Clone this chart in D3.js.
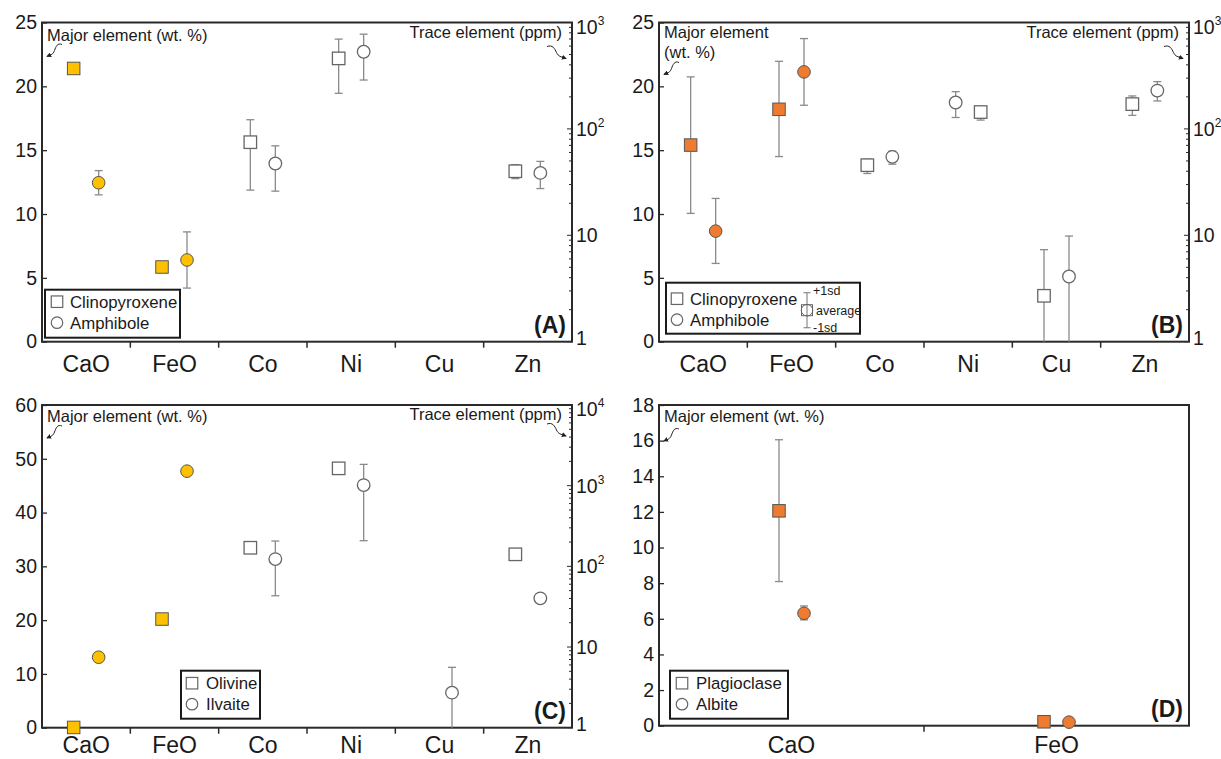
<!DOCTYPE html>
<html><head><meta charset="utf-8">
<script src="https://cdn.jsdelivr.net/npm/d3@7"></script>
<style>
body{margin:0;background:#fff}
svg{display:block}
text{font-family:"Liberation Sans",Arial,Helvetica,sans-serif;fill:#1a1a1a}
</style>
</head><body>
<svg id="chart" width="1221" height="759"></svg>
<script>
// ---------------- DATA ----------------
const elements = ["CaO", "FeO", "Co", "Ni", "Cu", "Zn"];
const majorElements = ["CaO", "FeO"];          // left axis, wt. %
const plagElements = ["CaO", "FeO"];

// Panel A: Clinopyroxene (square) vs Amphibole (circle)
const aCpxMean = [21.4, 5.85, 75, 460, null, 40];
const aCpxLow  = [null, null, 26.6, 216, null, 34.1];
const aCpxHigh = [null, null, 122, 698, null, 46.1];
const aAmpMean = [12.45, 6.4, 47.3, 531, null, 38.6];
const aAmpLow  = [11.5, 4.2, 26.0, 288, null, 27.5];
const aAmpHigh = [13.4, 8.6, 69.3, 777, null, 49.5];

// Panel B: Clinopyroxene (square) vs Amphibole (circle)
const bCpxMean = [15.4, 18.2, 45.6, 144, 2.7, 171];
const bCpxLow  = [10.05, 14.5, 38.1, 121, 0, 134];
const bCpxHigh = [20.74, 21.96, 52, 162, 7.33, 204];
const bAmpMean = [8.66, 21.13, 54.6, 177, 4.1, 229];
const bAmpLow  = [6.13, 18.52, 46.6, 128, 0, 183];
const bAmpHigh = [11.22, 23.74, 61.8, 224, 9.84, 278];
const bSwapped = ["Ni"];   // amphibole drawn left of clinopyroxene

// Panel C: Olivine (square) vs Ilvaite (circle)
const cOlvMean = [0.05, 20.2, 170, 1640, null, 141];
const cOlvLow  = [null, null, null, null, null, null];
const cOlvHigh = [null, null, null, null, null, null];
const cIlvMean = [13.1, 47.7, 123, 1017, 2.72, 40.1];
const cIlvLow  = [null, null, 43.2, 208, 0, null];
const cIlvHigh = [null, null, 206, 1837, 5.6, null];

// Panel D: Plagioclase (square) vs Albite (circle)
const dPlgMean = [12.06, 0.22];
const dPlgLow  = [8.09, null];
const dPlgHigh = [16.05, null];
const dAlbMean = [6.31, 0.2];
const dAlbLow  = [5.94, null];
const dAlbHigh = [6.72, null];

const leftTicksA = [0, 5, 10, 15, 20, 25];
const leftTicksC = [0, 10, 20, 30, 40, 50, 60];
const leftTicksD = [0, 2, 4, 6, 8, 10, 12, 14, 16, 18];

// ---------------- DRAW ----------------
const svg = d3.select("#chart");
const defs = svg.append("defs");
defs.append("marker").attr("id", "ah").attr("viewBox", "0 0 6 6")
  .attr("refX", 5).attr("refY", 3).attr("markerWidth", 5).attr("markerHeight", 5)
  .attr("orient", "auto")
  .append("path").attr("d", "M0,0 L6,3 L0,6 Z").attr("fill", "#222");

const GOLD = "#FFC000", ORANGE = "#EE7B30";
const BAR = "#8a8a8a", HOLLOW = "#666", FRAME = "#2a2a2a";
const OFF = 12.5, SQ = 12.5, R = 6.3;

function curly(g, sx, sy, ex, ey) {
  const mx = (sx + ex) / 2, my = (sy + ey) / 2, dx = ex - sx;
  g.append("path")
    .attr("d", `M${sx},${sy} C${sx + dx * 0.3},${sy - 2} ${mx - dx * 0.1},${my - 4} ${mx},${my} S${ex - dx * 0.3},${ey - 2} ${ex},${ey}`)
    .attr("fill", "none").attr("stroke", "#222").attr("stroke-width", 1)
    .attr("marker-end", "url(#ah)");
}

function drawShape(g, shape, cx, cy, fill, stroke, sw, size) {
  if (shape === "square") {
    g.append("rect").attr("x", cx - size / 2).attr("y", cy - size / 2)
      .attr("width", size).attr("height", size)
      .attr("fill", fill).attr("stroke", stroke).attr("stroke-width", sw);
  } else {
    g.append("circle").attr("cx", cx).attr("cy", cy).attr("r", size / 2)
      .attr("fill", fill).attr("stroke", stroke).attr("stroke-width", sw);
  }
}

function panel(cfg) {
  const g = svg.append("g");
  const { x0, x1, y0, y1 } = cfg.frame;
  const x = d3.scaleBand().domain(cfg.cats).range([x0, x1]);
  const bw = x.bandwidth();
  const yL = d3.scaleLinear().domain([0, cfg.leftTicks[cfg.leftTicks.length - 1]]).range([y1, y0]);
  const yR = cfg.logMax ? d3.scaleLog().domain([1, cfg.logMax]).range([y1, y0]) : null;

  // left axis
  const la = g.append("g").attr("transform", `translate(${x0},0)`)
    .call(d3.axisLeft(yL).tickValues(cfg.leftTicks).tickSizeInner(-5).tickSizeOuter(0).tickPadding(5));
  la.select(".domain").remove();
  la.selectAll("line").attr("stroke", FRAME).attr("stroke-width", 1.3);
  la.selectAll("text").attr("font-size", 19.5).attr("fill", "#1a1a1a")
    .attr("font-family", '"Liberation Sans",Arial,sans-serif');

  // right log axis
  if (yR) {
    const ra = g.append("g");
    yR.ticks().forEach(t => {
      const lg = Math.log10(t);
      const major = Math.abs(lg - Math.round(lg)) < 1e-9;
      ra.append("line").attr("x1", x1).attr("x2", x1 - (major ? 5 : 3))
        .attr("y1", yR(t)).attr("y2", yR(t)).attr("stroke", FRAME).attr("stroke-width", 1);
      if (major) {
        const e = Math.round(lg);
        const adj = (t === 1) ? -4 : (t === cfg.logMax ? 4 : 0);
        const tx = ra.append("text").attr("x", x1 + 4).attr("y", yR(t) + adj).attr("dy", "0.36em")
          .attr("font-size", 19.5);
        if (e === 0) tx.text("1");
        else if (e === 1) tx.text("10");
        else {
          tx.append("tspan").text("10");
          tx.append("tspan").attr("font-size", 12).attr("dy", "-0.75em").text(e);
        }
      }
    });
  }

  // bottom axis ticks + labels
  cfg.cats.forEach((c, i) => {
    if (i > 0) g.append("line").attr("x1", x(c)).attr("x2", x(c)).attr("y1", y1).attr("y2", y1 + 6)
      .attr("stroke", FRAME).attr("stroke-width", 1.5);
    g.append("text").attr("x", x(c) + bw / 2).attr("y", y1 + cfg.labelDy).attr("text-anchor", "middle")
      .attr("font-size", 23).text(c);
  });

  // frame
  g.append("rect").attr("x", x0).attr("y", y0).attr("width", x1 - x0).attr("height", y1 - y0)
    .attr("fill", "none").attr("stroke", FRAME).attr("stroke-width", 2);

  // series
  const bars = g.append("g"), marks = g.append("g");
  cfg.series.forEach(s => {
    s.mean.forEach((m, i) => {
      if (m === null) return;
      const c = cfg.cats[i];
      const major = majorElements.includes(c);
      const sc = major ? yL : yR;
      const swap = (cfg.swapped || []).includes(c) ? -1 : 1;
      const cx = x(c) + bw / 2 + s.side * swap * OFF;
      const h = s.high[i], l = s.low[i];
      if (h !== null) {
        const yt = sc(h);
        const clipped = l <= sc.domain()[0];
        const yb = clipped ? y1 : sc(l);
        bars.append("line").attr("x1", cx).attr("x2", cx).attr("y1", yt).attr("y2", yb)
          .attr("stroke", BAR).attr("stroke-width", 1.3);
        bars.append("line").attr("x1", cx - 4).attr("x2", cx + 4).attr("y1", yt).attr("y2", yt)
          .attr("stroke", BAR).attr("stroke-width", 1.3);
        if (!clipped) bars.append("line").attr("x1", cx - 4).attr("x2", cx + 4).attr("y1", yb).attr("y2", yb)
          .attr("stroke", BAR).attr("stroke-width", 1.3);
      }
      const fill = major ? cfg.color : "#fff";
      const stroke = major ? "#555" : HOLLOW;
      drawShape(marks, s.shape, cx, sc(m), fill, stroke, major ? 1 : 1.3, s.shape === "square" ? SQ : 2 * R);
    });
  });

  // annotations
  const ma = cfg.major;
  ma.lines.forEach((t, k) => {
    g.append("text").attr("x", x0 + 5).attr("y", y0 + ma.base + k * 20.5).attr("font-size", 16.5).text(t);
  });
  curly(g, x0 + 20, y0 + ma.arrowY, x0 + 5, y0 + ma.arrowY + 12);
  if (cfg.trace) {
    g.append("text").attr("x", x1 - 10).attr("y", y0 + 15).attr("text-anchor", "end")
      .attr("font-size", 16.5).text("Trace element (ppm)");
    curly(g, x1 - 25, y0 + cfg.trace.arrowY, x1 - 6, y0 + cfg.trace.arrowY + 12);
  }

  // panel label
  g.append("text").attr("x", x1 - 6).attr("y", y1 - 9).attr("text-anchor", "end")
    .attr("font-size", 23).attr("font-weight", "bold").text(cfg.label);

  // legend
  const L = cfg.legend;
  g.append("rect").attr("x", x0 + L.dx).attr("y", y1 - L.dy).attr("width", L.w).attr("height", L.h)
    .attr("fill", "#fff").attr("stroke", "#1a1a1a").attr("stroke-width", 2);
  L.names.forEach((n, k) => {
    const cy = y1 - L.dy + L.row0 + k * 21;
    drawShape(g, k === 0 ? "square" : "circle", x0 + L.dx + L.sym, cy, "#fff", HOLLOW, 1.2, 11.5);
    g.append("text").attr("x", x0 + L.dx + L.txt).attr("y", cy).attr("dy", "0.36em")
      .attr("font-size", 16.8).text(n);
  });
  if (L.sd) {
    const ex = x0 + L.dx + L.sd, top = y1 - L.dy + 10, bot = y1 - L.dy + 45, mid = (top + bot) / 2;
    g.append("line").attr("x1", ex).attr("x2", ex).attr("y1", top).attr("y2", bot).attr("stroke", BAR).attr("stroke-width", 1.2);
    [top, bot].forEach(yy => g.append("line").attr("x1", ex - 3.5).attr("x2", ex + 3.5).attr("y1", yy).attr("y2", yy)
      .attr("stroke", BAR).attr("stroke-width", 1.2));
    drawShape(g, "square", ex, mid, "none", HOLLOW, 1, 11);
    drawShape(g, "circle", ex, mid, "none", HOLLOW, 1, 11.5);
    [["+1sd", top], ["average", mid], ["-1sd", bot]].forEach(([t, yy], k) => {
      g.append("text").attr("x", ex + (k === 1 ? 9 : 6)).attr("y", yy - (k === 0 ? 2 : 0)).attr("dy", "0.36em")
        .attr("font-size", 12.5).text(t);
    });
  }
}

panel({
  frame: { x0: 42, x1: 572, y0: 22.5, y1: 341.7 }, cats: elements, leftTicks: leftTicksA, logMax: 1e3,
  color: GOLD, label: "(A)", labelDy: 30,
  series: [
    { mean: aCpxMean, low: aCpxLow, high: aCpxHigh, shape: "square", side: -1 },
    { mean: aAmpMean, low: aAmpLow, high: aAmpHigh, shape: "circle", side: 1 }
  ],
  major: { lines: ["Major element (wt. %)"], base: 18, arrowY: 22 },
  trace: { arrowY: 24 },
  legend: { dx: 3, dy: 52, w: 135, h: 48, row0: 12, sym: 12, txt: 25, names: ["Clinopyroxene", "Amphibole"] }
});

panel({
  frame: { x0: 659, x1: 1189, y0: 22.5, y1: 341.7 }, cats: elements, leftTicks: leftTicksA, logMax: 1e3,
  color: ORANGE, label: "(B)", swapped: bSwapped, labelDy: 30,
  series: [
    { mean: bCpxMean, low: bCpxLow, high: bCpxHigh, shape: "square", side: -1 },
    { mean: bAmpMean, low: bAmpLow, high: bAmpHigh, shape: "circle", side: 1 }
  ],
  major: { lines: ["Major element", "(wt. %)"], base: 15, arrowY: 40 },
  trace: { arrowY: 24 },
  legend: { dx: 7, dy: 59, w: 194, h: 51, row0: 16, sym: 11, txt: 24, sd: 141, names: ["Clinopyroxene", "Amphibole"] }
});

panel({
  frame: { x0: 42, x1: 572, y0: 405, y1: 727.7 }, cats: elements, leftTicks: leftTicksC, logMax: 1e4,
  color: GOLD, label: "(C)", labelDy: 25.5,
  series: [
    { mean: cOlvMean, low: cOlvLow, high: cOlvHigh, shape: "square", side: -1 },
    { mean: cIlvMean, low: cIlvLow, high: cIlvHigh, shape: "circle", side: 1 }
  ],
  major: { lines: ["Major element (wt. %)"], base: 17, arrowY: 21 },
  trace: { arrowY: 19 },
  legend: { dx: 139, dy: 57, w: 79, h: 48, row0: 12.5, sym: 11, txt: 25, names: ["Olivine", "Ilvaite"] }
});

panel({
  frame: { x0: 659, x1: 1189, y0: 405, y1: 725.7 }, cats: plagElements, leftTicks: leftTicksD, logMax: null,
  color: ORANGE, label: "(D)", labelDy: 27.5,
  series: [
    { mean: dPlgMean, low: dPlgLow, high: dPlgHigh, shape: "square", side: -1 },
    { mean: dAlbMean, low: dAlbLow, high: dAlbHigh, shape: "circle", side: 1 }
  ],
  major: { lines: ["Major element (wt. %)"], base: 17, arrowY: 24 },
  trace: null,
  legend: { dx: 11, dy: 55, w: 118, h: 48, row0: 12.5, sym: 12, txt: 26, names: ["Plagioclase", "Albite"] }
});
</script>
</body></html>
